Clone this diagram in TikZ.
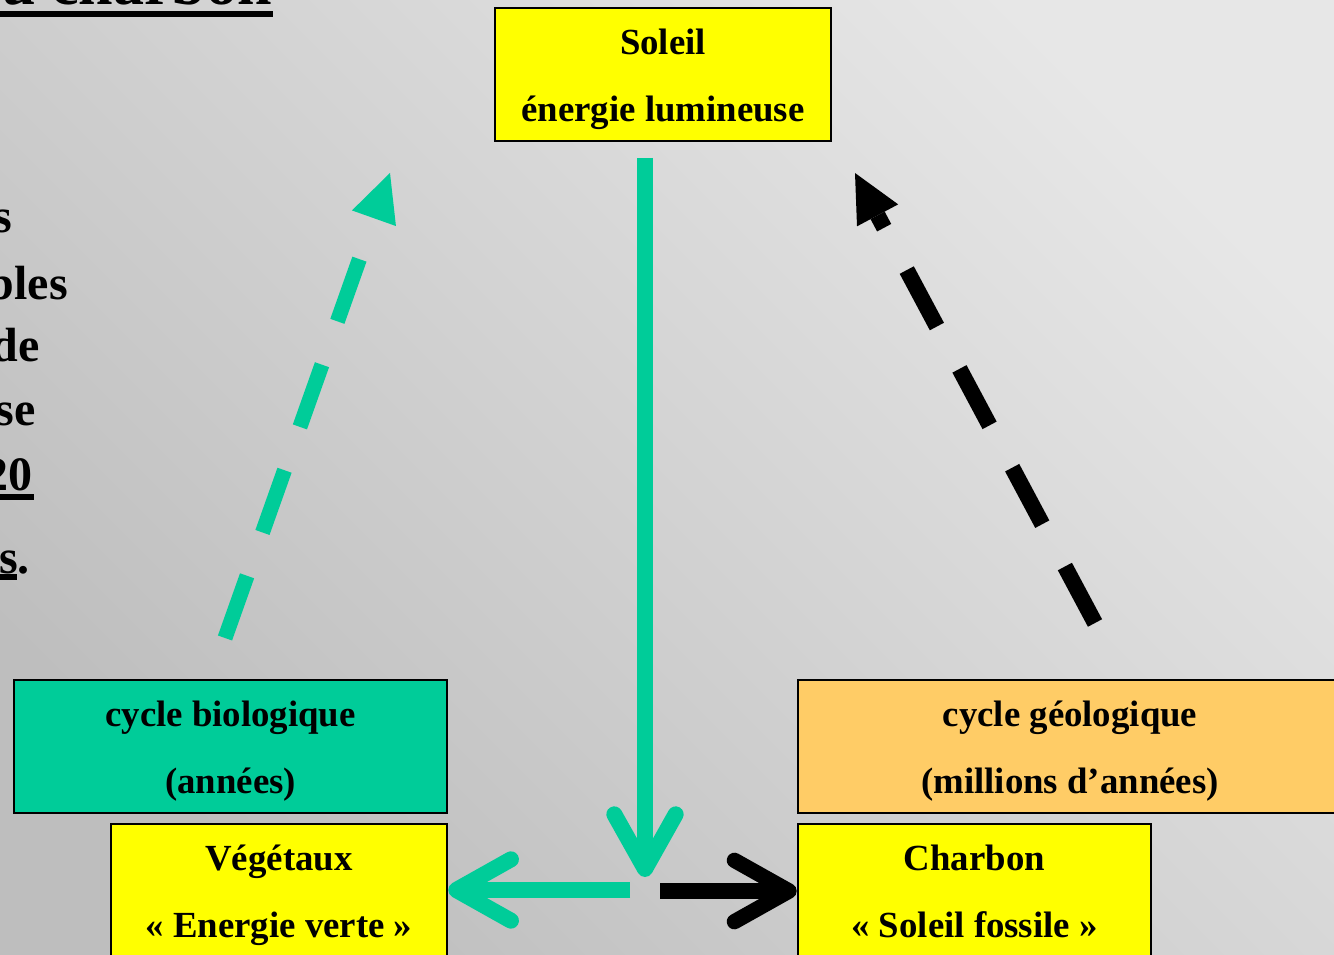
\documentclass[tikz,border=0pt]{standalone}
\usepackage{fontspec}
\setmainfont{Liberation Serif}
\usetikzlibrary{arrows.meta,calc}
\definecolor{gr}{HTML}{00CC99}
\definecolor{org}{HTML}{FFCC66}
\definecolor{yel}{HTML}{FFFF00}
\definecolor{bgdark}{HTML}{BEBEBE}
\definecolor{bglight}{HTML}{E7E7E7}
\begin{document}
\begin{tikzpicture}[x=0.75pt,y=-0.75pt,
  box/.style={draw=black, line width=1.9pt, inner sep=0pt, minimum height=99.75pt},
  lbl/.style={font=\fontsize{27.6pt}{33pt}\selectfont\bfseries, inner sep=0pt, anchor=base},
  side/.style={font=\fontsize{36pt}{40pt}\selectfont\bfseries, inner sep=0pt, anchor=base east},
  titl/.style={font=\fontsize{46.5pt}{50pt}\selectfont\bfseries, inner sep=0pt, anchor=base east},
  uline/.style={draw=black, line width=4.5pt},
  barb/.style={-{Straight Barb[length=41pt,width=46pt,round]}},
  tri/.style={-{Triangle[length=36pt,width=35pt,line width=0pt]}},
  gsolid/.style={draw=gr, line width=12pt},
  bsolid/.style={draw=black, line width=11.5pt},
  gdash/.style={draw=gr, line width=11.25pt, dash pattern=on 49.5pt off 34.5pt},
  bdash/.style={draw=black, line width=12pt, dash pattern=on 48pt off 36pt}
]
\useasboundingbox (0,0) rectangle (1334,955);
\clip (0,0) rectangle (1334,955);
\shade[top color=bglight, bottom color=bgdark, shading angle=-45] (-10,-10) rectangle (1344,965);

% left partial text
\node[titl] (title) at (272,5) {u charbon};
\draw[uline] (0,14) -- (273,14);
\node[side] (l1) at (12,233) {s};
\node[side] (l2) at (68,300) {bles};
\node[side] (l3) at (40,362) {de};
\node[side] (l4) at (36,425) {se};
\node[side] (l5) at (33,490) {20};
\node[side] (l6) at (30,573) {s.};
\draw[uline] (0,497) -- (34,497);
\draw[uline] (0,577) -- (17,577);

% boxes
\node[box, fill=yel, minimum width=252pt] (soleil) at (663,74.5) {};
\node[box, fill=gr, minimum width=324.75pt] (bio) at (230.5,746.5) {};
\node[box, fill=org, minimum width=408pt] (geo) at (1070,746.5) {};
\node[box, fill=yel, minimum width=252pt] (veg) at (279,890.5) {};
\node[box, fill=yel, minimum width=264.75pt] (charbon) at (974.5,890.5) {};

\node[lbl] (soleilA) at ($(soleil.north)+(0,48)$) {Soleil};
\node[lbl] (soleilB) at ($(soleil.north)+(0,115)$) {énergie lumineuse};
\node[lbl] (bioA) at ($(bio.north)+(0,48)$) {cycle biologique};
\node[lbl] (bioB) at ($(bio.north)+(0,115)$) {(années)};
\node[lbl] (geoA) at ($(geo.north)+(0,48)$) {cycle géologique};
\node[lbl] (geoB) at ($(geo.north)+(0,115)$) {(millions d’années)};
\node[lbl] (vegA) at ($(veg.north)+(0,48)$) {Végétaux};
\node[lbl] (vegB) at ($(veg.north)+(0,115)$) {« Energie verte »};
\node[lbl] (charA) at ($(charbon.north)+(0,48)$) {Charbon};
\node[lbl] (charB) at ($(charbon.north)+(0,115)$) {« Soleil fossile »};

% connectors
\coordinate (vtop) at (645,158);
\coordinate (vtip) at (645,877);
\coordinate (hgs) at (630,890);
\coordinate (hbs) at (660,891);
\coordinate (gds) at (225,638);
\coordinate (gdt) at (390,173);
\coordinate (bds) at (1095,623);
\coordinate (bdt) at (855,173);

\draw[gsolid, barb] (vtop) -- (vtip);
\draw[gsolid, barb] (hgs) -- (veg.east |- hgs);
\draw[bsolid, barb] (hbs) -- (charbon.west |- hbs);
\draw[gdash, tri] (gds) -- (gdt);
\draw[bdash, tri] (bds) -- (bdt);
\end{tikzpicture}
\end{document}
